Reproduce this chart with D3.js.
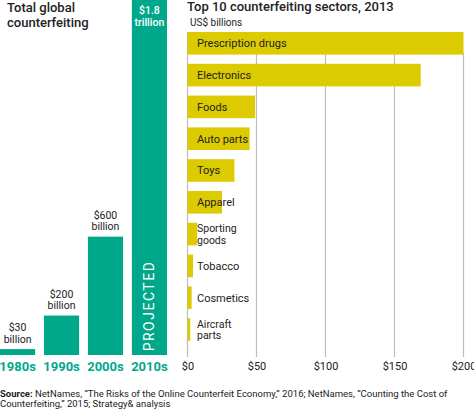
<!DOCTYPE html>
<html><head><meta charset="utf-8">
<script src="https://cdn.jsdelivr.net/npm/d3@7"></script>
<style>
html,body{margin:0;padding:0;background:#fff;}
svg{display:block;font-family:Roboto, "Noto Sans", sans-serif;}
</style></head>
<body><svg id="c" width="474" height="410"></svg>
<script>
// Left chart data
const decades = ["1980s","1990s","2000s","2010s"];
const totals = [30, 200, 600, 1800]; // US$ billions
const totalLabels = [["$30","billion"],["$200","billion"],["$600","billion"],["$1.8","trillion"]];

// Right chart data
const sectors = ["Prescription drugs","Electronics","Foods","Auto parts","Toys","Apparel","Sporting goods","Tobacco","Cosmetics","Aircraft parts"];
const sectorLabels = [["Prescription drugs"],["Electronics"],["Foods"],["Auto parts"],["Toys"],["Apparel"],["Sporting","goods"],["Tobacco"],["Cosmetics"],["Aircraft","parts"]];
const sectorValues = [200, 169, 49, 45, 34, 25, 7, 4, 3, 2];
const xTicks = [0, 50, 100, 150, 200];

const teal = "#00a88b", yellow = "#dccb00", ink = "#222";
const svg = d3.select("#c");

// ---- Left chart ----
const xL = d3.scaleBand().domain(decades).range([0, 167]).paddingInner(0.2).paddingOuter(0);
const yL = d3.scaleLinear().domain([0, 1800]).range([355, 0]);
const gL = svg.append("g");
gL.append("text").attr("x", 7).attr("y", 12).attr("font-size", 13).attr("font-weight", 500).attr("fill", ink).text("Total global");
gL.append("text").attr("x", 7).attr("y", 27).attr("font-size", 13).attr("font-weight", 500).attr("fill", ink).text("counterfeiting");

gL.selectAll("rect").data(totals).join("rect")
  .attr("x", (d,i) => xL(decades[i])).attr("y", d => yL(d))
  .attr("width", xL.bandwidth()).attr("height", d => yL(0) - yL(d))
  .attr("fill", teal);

totals.forEach((v, i) => {
  const cx = xL(decades[i]) + xL.bandwidth()/2;
  const inside = i === 3;
  const top = inside ? 14 : yL(v) - 18;
  const t = gL.append("text").attr("text-anchor", "middle").attr("font-size", 10.5)
    .attr("fill", inside ? "#fff" : ink).attr("font-weight", inside ? 500 : 400);
  totalLabels[i].forEach((s, k) => t.append("tspan").attr("x", cx).attr("y", top + k*11.5).text(s));
  gL.append("text").attr("x", cx).attr("y", 371).attr("text-anchor", "middle")
    .attr("font-size", 13).attr("font-weight", 700).attr("fill", teal).text(decades[i]);
});
{
  const cx = xL("2010s") + xL.bandwidth()/2;
  gL.append("text").attr("transform", `translate(${cx+5},306) rotate(-90)`)
    .attr("text-anchor", "middle").attr("font-size", 14).attr("letter-spacing", 1.5)
    .attr("fill", "#fff").text("PROJECTED");
}

// ---- Right chart ----
const xR = d3.scaleLinear().domain([0, 200]).range([187.5, 463.5]);
const yR = d3.scaleBand().domain(sectors).range([32, 340.8]).paddingInner(0.29).paddingOuter(0);
const gR = svg.append("g");
gR.append("text").attr("x", 187).attr("y", 11).attr("font-size", 13).attr("font-weight", 500).attr("fill", ink).text("Top 10 counterfeiting sectors, 2013");
gR.append("text").attr("x", 190).attr("y", 26).attr("font-size", 10).attr("fill", ink).text("US$ billions");

const axis = d3.axisBottom(xR).tickValues(xTicks).tickSize(0).tickPadding(0).tickFormat(d => "$" + d);
const ax = gR.append("g").attr("transform", "translate(0,362)").call(axis);
ax.select(".domain").remove();
ax.selectAll("text").attr("font-size", 11).attr("fill", ink).attr("dy", "0.71em").attr("y", 0)
  .attr("font-family", "Roboto, sans-serif");

gR.selectAll("line.grid").data(xTicks).join("line").attr("class", "grid")
  .attr("x1", d => xR(d)).attr("x2", d => xR(d))
  .attr("y1", d => d === 0 ? 32 : 53).attr("y2", 357)
  .attr("stroke", "#bdbdbd").attr("stroke-width", 1.2);

gR.selectAll("rect").data(sectorValues).join("rect")
  .attr("x", xR(0)).attr("y", (d,i) => yR(sectors[i]))
  .attr("width", d => xR(d) - xR(0)).attr("height", yR.bandwidth())
  .attr("fill", yellow);

sectorLabels.forEach((lines, i) => {
  const cy = yR(sectors[i]) + yR.bandwidth()/2;
  const fs = lines.length > 1 ? 10.5 : 11;
  const t = gR.append("text").attr("font-size", fs).attr("fill", ink);
  const y0 = cy - (lines.length - 1) * 5.75 + 4;
  lines.forEach((s, k) => t.append("tspan").attr("x", 197).attr("y", y0 + k*11.5).text(s));
});

// ---- Source ----
const src = svg.append("g").attr("font-size", 9.5).attr("fill", ink);
const l1 = src.append("text").attr("x", 0).attr("y", 397);
l1.append("tspan").attr("font-weight", 700).text("Source:");
l1.append("tspan").text(" NetNames, \u201CThe Risks of the Online Counterfeit Economy,\u201D 2016; NetNames, \u201CCounting the Cost of");
src.append("text").attr("x", 0).attr("y", 407).text("Counterfeiting,\u201D 2015; Strategy& analysis");
</script></body></html>
